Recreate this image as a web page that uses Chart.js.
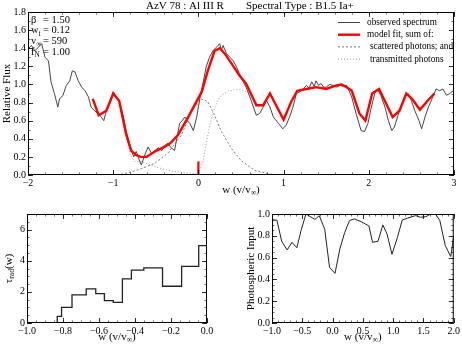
<!DOCTYPE html>
<html>
<head>
<meta charset="utf-8">
<script src="https://cdn.jsdelivr.net/npm/chart.js@4.4.1/dist/chart.umd.min.js"></script>
<style>
html, body { margin: 0; padding: 0; background: #fff; }
#wrap { position: relative; width: 462px; height: 347px; }
canvas { position: absolute; }
</style>
</head>
<body>
<div id="wrap">
  <canvas id="topChart" width="462" height="196" style="left:0;top:0"></canvas>
  <canvas id="tauChart" width="231" height="147" style="left:0;top:200px"></canvas>
  <canvas id="photChart" width="231" height="147" style="left:231px;top:200px"></canvas>
</div>
<script>
// observed spectrum, w (v/vinf) and relative flux
var obsW = [-2.00, -1.96, -1.92, -1.88, -1.84, -1.80, -1.76, -1.73, -1.69, -1.65, -1.63, -1.59, -1.55, -1.51, -1.48, -1.45, -1.41, -1.37, -1.33, -1.29,
  -1.26, -1.22, -1.18, -1.14, -1.11, -1.08, -1.04, -1.00, -0.96, -0.92, -0.88, -0.85, -0.81, -0.76, -0.73, -0.70, -0.67, -0.63, -0.59, -0.55,
  -0.51, -0.47, -0.43, -0.39, -0.36, -0.32, -0.28, -0.25, -0.22, -0.19, -0.16, -0.13, -0.10, -0.06, -0.02, 0.02, 0.06, 0.09, 0.13, 0.17,
  0.21, 0.25, 0.27, 0.29, 0.33, 0.37, 0.41, 0.45, 0.48, 0.52, 0.56, 0.62, 0.68, 0.72, 0.76, 0.80, 0.84, 0.88, 0.94, 0.99,
  1.03, 1.07, 1.11, 1.15, 1.21, 1.25, 1.27, 1.30, 1.33, 1.36, 1.38, 1.41, 1.44, 1.47, 1.50, 1.54, 1.58, 1.62, 1.66, 1.70,
  1.74, 1.80, 1.85, 1.91, 1.95, 1.99, 2.03, 2.07, 2.10, 2.14, 2.19, 2.23, 2.27, 2.30, 2.36, 2.42, 2.46, 2.50, 2.54, 2.59,
  2.62, 2.66, 2.70, 2.75, 2.79, 2.83, 2.87, 2.91, 2.95, 2.99];
var obsFlux = [1.39, 1.43, 1.37, 1.41, 1.45, 1.30, 1.26, 1.03, 0.90, 0.75, 0.84, 0.88, 0.99, 1.04, 1.15, 1.14, 1.04, 0.97, 0.93, 0.86,
  0.75, 0.71, 0.68, 0.64, 0.60, 0.71, 0.79, 0.92, 0.86, 0.79, 0.64, 0.49, 0.35, 0.20, 0.26, 0.18, 0.11, 0.22, 0.31, 0.24,
  0.27, 0.30, 0.27, 0.33, 0.35, 0.30, 0.27, 0.42, 0.57, 0.60, 0.64, 0.60, 0.57, 0.49, 0.64, 0.86, 1.04, 1.19, 1.30, 1.37,
  1.41, 1.45, 1.38, 1.43, 1.34, 1.30, 1.26, 1.19, 1.12, 1.04, 0.97, 0.82, 0.66, 0.68, 0.75, 0.82, 0.75, 0.64, 0.57, 0.51,
  0.55, 0.64, 0.75, 0.90, 0.93, 0.97, 0.99, 0.96, 1.03, 0.98, 1.04, 0.99, 1.01, 0.97, 0.97, 1.00, 0.99, 0.97, 0.99, 0.98,
  0.99, 0.86, 0.68, 0.49, 0.48, 0.57, 0.75, 0.90, 0.95, 0.88, 0.75, 0.60, 0.49, 0.53, 0.71, 0.86, 0.90, 0.82, 0.71, 0.60,
  0.51, 0.64, 0.75, 0.86, 0.95, 0.93, 0.95, 0.88, 0.90, 0.93];

// model fit (red)
var fitW = [-1.24, -1.17, -1.08, -1.00, -0.93, -0.85, -0.79, -0.73, -0.68, -0.61, -0.51, -0.40, -0.33, -0.24, -0.12, 0.04, 0.11, 0.19, 0.25, 0.31,
  0.39, 0.48, 0.56, 0.68, 0.76, 0.84, 1.00, 1.09, 1.16, 1.27, 1.38, 1.50, 1.62, 1.68, 1.74, 1.80, 1.89, 1.96, 2.04, 2.12,
  2.28, 2.36, 2.44, 2.51, 2.60, 2.69, 2.77];
var fitFlux = [0.84, 0.66, 0.71, 0.90, 0.82, 0.46, 0.27, 0.22, 0.20, 0.20, 0.26, 0.31, 0.35, 0.44, 0.64, 0.92, 1.15, 1.37, 1.40, 1.34,
  1.23, 1.10, 1.01, 0.77, 0.77, 0.90, 0.61, 0.81, 0.93, 0.95, 0.97, 0.95, 0.99, 1.00, 0.97, 0.93, 0.68, 0.60, 0.90, 0.95,
  0.64, 0.71, 0.90, 0.84, 0.72, 0.82, 0.90];

// scattered photons (dashed)
var scatW = [-1.00, -0.90, -0.80, -0.67, -0.51, -0.36, -0.20, -0.08, 0.03, 0.11, 0.19, 0.27, 0.39, 0.50, 0.66, 0.85, 1.00, 2.00, 3.00];
var scatFlux = [0.00, 0.01, 0.03, 0.07, 0.13, 0.24, 0.44, 0.70, 0.84, 0.81, 0.66, 0.48, 0.29, 0.16, 0.05, 0.01, 0.00, 0.00, 0.00];

// transmitted photons (dotted)
var transW = [-1.24, -1.17, -1.08, -1.00, -0.93, -0.85, -0.80, -0.75, -0.67, -0.51, -0.32, -0.12, 0.00, 0.055, 0.11, 0.17, 0.25, 0.35, 0.47, 0.58,
  0.64, 0.70, 0.76, 0.84, 1.00, 1.09, 1.16, 1.27, 1.38, 1.50, 1.62, 1.68, 1.74, 1.80, 1.89, 1.96, 2.04, 2.12, 2.28, 2.36,
  2.44, 2.51, 2.60, 2.69, 2.77];
var transFlux = [0.84, 0.66, 0.71, 0.90, 0.81, 0.44, 0.22, 0.15, 0.15, 0.09, 0.045, 0.02, 0.01, 0.15, 0.44, 0.70, 0.86, 0.93, 0.945, 0.915,
  0.84, 0.75, 0.76, 0.90, 0.61, 0.81, 0.93, 0.95, 0.97, 0.95, 0.99, 1.00, 0.97, 0.93, 0.68, 0.60, 0.90, 0.95, 0.64, 0.71,
  0.90, 0.84, 0.72, 0.82, 0.90];

// tau_rad(w), step starts
var tauW = [-1.0, -0.832, -0.808, -0.75, -0.671, -0.618, -0.570, -0.521, -0.470, -0.420, -0.351, -0.247, -0.141, -0.046, 0.0];
var tauVal = [0, 0.43, 1.0, 1.8, 2.19, 1.89, 1.44, 1.33, 2.83, 3.39, 3.54, 2.36, 3.64, 4.97, 4.97];

// photospheric input
var photW = [-1.00, -0.92, -0.84, -0.75, -0.67, -0.59, -0.52, -0.44, -0.29, -0.22, -0.13, -0.05, 0.04, 0.12, 0.20, 0.28, 0.36, 0.47, 0.60, 0.66,
  0.75, 0.83, 0.90, 0.98, 1.07, 1.15, 1.24, 1.37, 1.45, 1.54, 1.62, 1.70, 1.77, 1.86, 1.95, 2.00];
var photVal = [0.94, 0.945, 0.75, 0.67, 0.74, 0.69, 0.85, 1.00, 0.95, 0.985, 0.86, 0.51, 0.455, 0.68, 0.83, 0.94, 0.955, 0.93, 0.89, 0.74,
  0.75, 0.90, 0.815, 0.63, 0.785, 0.945, 0.963, 0.985, 0.97, 0.975, 1.00, 1.00, 0.94, 0.71, 0.61, 0.80];

var params = [
  [['\u03b2', '']], '= 1.50',
  [['w', ''], ['t', 'sub']], '= 0.12',
  [['v', ''], ['\u221e', 'sub']], '= 590',
  [['f', ''], ['N', 'sub']], '= 1.00'
];

var serif = "'Liberation Serif', 'DejaVu Serif', serif";
Chart.defaults.font.family = serif;
Chart.defaults.font.size = 10;
Chart.defaults.color = '#000';

function pts(xs, ys) {
  return xs.map(function (x, i) { return { x: x, y: ys[i] }; });
}

function minus(v, dec) {
  var s = Math.abs(v).toFixed(dec);
  return (v < -1e-9 ? '\u2212' : '') + s;
}

// text with subscripts: parts = [[text, 'sub' or '']]
function drawRich(ctx, parts, x, y, size, align) {
  var w = 0;
  parts.forEach(function (p) {
    ctx.font = (p[1] === 'sub' ? size * 0.7 : size) + 'px ' + serif;
    p.w = ctx.measureText(p[0]).width;
    w += p.w;
  });
  var cx = align === 'center' ? x - w / 2 : x;
  ctx.textAlign = 'left';
  ctx.textBaseline = 'middle';
  parts.forEach(function (p) {
    var sub = p[1] === 'sub';
    ctx.font = (sub ? size * 0.7 : size) + 'px ' + serif;
    ctx.fillText(p[0], cx, y + (sub ? size * 0.3 : 0));
    cx += p.w;
  });
}

// frame, inward ticks and axis titles
function decor(cfg) {
  return {
    id: 'decor',
    afterDraw: function (chart) {
      var ctx = chart.ctx, a = chart.chartArea, xs = chart.scales.x, ys = chart.scales.y;
      ctx.save();
      ctx.strokeStyle = '#000';
      ctx.lineWidth = 1;
      ctx.strokeRect(a.left + 0.5, a.top + 0.5, a.right - a.left - 1, a.bottom - a.top - 1);
      function marks(scale, step, len, horiz) {
        var n = Math.round((scale.max - scale.min) / step);
        ctx.beginPath();
        for (var i = 0; i <= n; i++) {
          var p = Math.round(scale.getPixelForValue(scale.min + i * step)) + 0.5;
          if (horiz) {
            ctx.moveTo(p, a.bottom); ctx.lineTo(p, a.bottom - len);
            ctx.moveTo(p, a.top); ctx.lineTo(p, a.top + len);
          } else {
            ctx.moveTo(a.left, p); ctx.lineTo(a.left + len, p);
            ctx.moveTo(a.right, p); ctx.lineTo(a.right - len, p);
          }
        }
        ctx.stroke();
      }
      ctx.lineWidth = 0.6;
      marks(xs, cfg.xMinor, 2.5, true);
      marks(ys, cfg.yMinor, 2.5, false);
      ctx.lineWidth = 0.8;
      marks(xs, cfg.xMajor, 5, true);
      marks(ys, cfg.yMajor, 5, false);

      ctx.fillStyle = '#000';
      drawRich(ctx, cfg.xTitle, (a.left + a.right) / 2, cfg.xTitleY, 11, 'center');
      ctx.save();
      ctx.translate(cfg.yTitleX, cfg.yTitleY || (a.top + a.bottom) / 2);
      ctx.rotate(-Math.PI / 2);
      drawRich(ctx, cfg.yTitle, 0, 0, 11, 'center');
      ctx.restore();
      if (cfg.extra) cfg.extra(ctx, chart);
      ctx.restore();
    }
  };
}

var wTitle = [['w (v/v', ''], ['\u221e', 'sub'], [')', '']];

function axes(xMin, xMax, xStep, xDec, yMin, yMax, yStep, yDec, xH, yW) {
  return {
    x: {
      type: 'linear', min: xMin, max: xMax,
      ticks: { stepSize: xStep, padding: 2, maxRotation: 0, includeBounds: false, callback: function (v) { return minus(v, xDec); } },
      grid: { display: false, drawTicks: false }, border: { display: false },
      afterFit: function (s) { s.height = xH; }
    },
    y: {
      type: 'linear', min: yMin, max: yMax,
      ticks: { stepSize: yStep, padding: 2, includeBounds: false, callback: function (v) { return minus(v, yDec); } },
      grid: { display: false, drawTicks: false }, border: { display: false },
      afterFit: function (s) { s.width = yW; }
    }
  };
}

var baseOpts = {
  responsive: false,
  animation: false,
  plugins: { legend: { display: false }, tooltip: { enabled: false } },
  elements: { point: { radius: 0 }, line: { tension: 0 } }
};

// top panel
var legendItems = [
  ['observed spectrum', '#444', 1, [], 367],
  ['model fit, sum of:', '#f00', 2.4, [], 367],
  ['scattered photons; and', '#555', 0.8, [2, 2], 370],
  ['transmitted photons', '#777', 0.8, [1, 2], 370]
];

new Chart(document.getElementById('topChart'), {
  type: 'line',
  data: {
    datasets: [
      { label: 'model fit', data: pts(fitW, fitFlux), borderColor: '#f00', borderWidth: 2.4, order: 0 },
      { label: 'w=0', data: [{ x: 0, y: 0 }, { x: 0, y: 0.15 }], borderColor: '#f00', borderWidth: 2.2, order: 0 },
      { label: 'observed spectrum', data: pts(obsW, obsFlux), borderColor: '#444', borderWidth: 1, order: 1 },
      { label: 'scattered photons', data: pts(scatW, scatFlux), borderColor: '#555', borderWidth: 0.8, borderDash: [2, 2], order: 2 },
      { label: 'transmitted photons', data: pts(transW, transFlux), borderColor: '#888', borderWidth: 0.8, borderDash: [1, 2], order: 3 }
    ]
  },
  options: Object.assign({}, baseOpts, {
    layout: { padding: { top: 12, right: 8, left: 0, bottom: 0 } },
    scales: axes(-2, 3, 1, 0, 0, 1.8, 0.2, 1, 21, 28)
  }),
  plugins: [decor({
    xMinor: 0.2, xMajor: 1, yMinor: 0.1, yMajor: 0.2,
    xTitle: wTitle, xTitleY: 190,
    yTitle: [['Relative Flux', '']], yTitleX: 7,
    extra: function (ctx) {
      // title
      ctx.font = '11px ' + serif;
      ctx.textAlign = 'left';
      ctx.textBaseline = 'middle';
      ctx.fillText('AzV 78 : Al III R', 146, 6);
      ctx.fillText('Spectral Type : B1.5 Ia+', 246, 6);
      // fit parameters
      for (var i = 0; i < params.length; i += 2) {
        var yy = 20 + (i / 2) * 10.7;
        drawRich(ctx, params[i], 31, yy, 10.5, 'left');
        ctx.font = '10.5px ' + serif;
        ctx.textBaseline = 'middle';
        ctx.fillText(params[i + 1], 43, yy);
      }
      // legend
      legendItems.forEach(function (it, k) {
        var yy = 22.5 + k * 12.2;
        ctx.save();
        ctx.strokeStyle = it[1];
        ctx.lineWidth = it[2];
        ctx.setLineDash(it[3]);
        ctx.beginPath();
        ctx.moveTo(338, yy); ctx.lineTo(360, yy);
        ctx.stroke();
        ctx.restore();
        ctx.font = '9.3px ' + serif;
        ctx.textAlign = 'left';
        ctx.textBaseline = 'middle';
        ctx.fillText(it[0], it[4], yy);
      });
    }
  })]
});

// bottom left: tau_rad
new Chart(document.getElementById('tauChart'), {
  type: 'line',
  data: {
    datasets: [
      { label: 'tau', data: pts(tauW, tauVal), borderColor: '#222', borderWidth: 1.3, stepped: 'before' }
    ]
  },
  options: Object.assign({}, baseOpts, {
    layout: { padding: { top: 14, right: 24, left: 0, bottom: 0 } },
    scales: axes(-1, 0, 0.2, 1, 0, 7, 2, 0, 24, 27)
  }),
  plugins: [decor({
    xMinor: 0.05, xMajor: 0.2, yMinor: 0.5, yMajor: 2,
    xTitle: wTitle, xTitleY: 137,
    yTitle: [['\u03c4', ''], ['rad', 'sub'], ['(w)', '']], yTitleX: 9
  })]
});

// bottom right: photospheric input
new Chart(document.getElementById('photChart'), {
  type: 'line',
  data: {
    datasets: [
      { label: 'photospheric input', data: pts(photW, photVal), borderColor: '#222', borderWidth: 1 }
    ]
  },
  options: Object.assign({}, baseOpts, {
    layout: { padding: { top: 14, right: 7, left: 0, bottom: 0 } },
    scales: axes(-1, 2, 0.5, 1, 0, 1, 0.2, 1, 24, 41)
  }),
  plugins: [decor({
    xMinor: 0.1, xMajor: 0.5, yMinor: 0.05, yMajor: 0.2,
    xTitle: wTitle, xTitleY: 137,
    yTitle: [['Photospheric Input', '']], yTitleX: 20
  })]
});
</script>
</body>
</html>
